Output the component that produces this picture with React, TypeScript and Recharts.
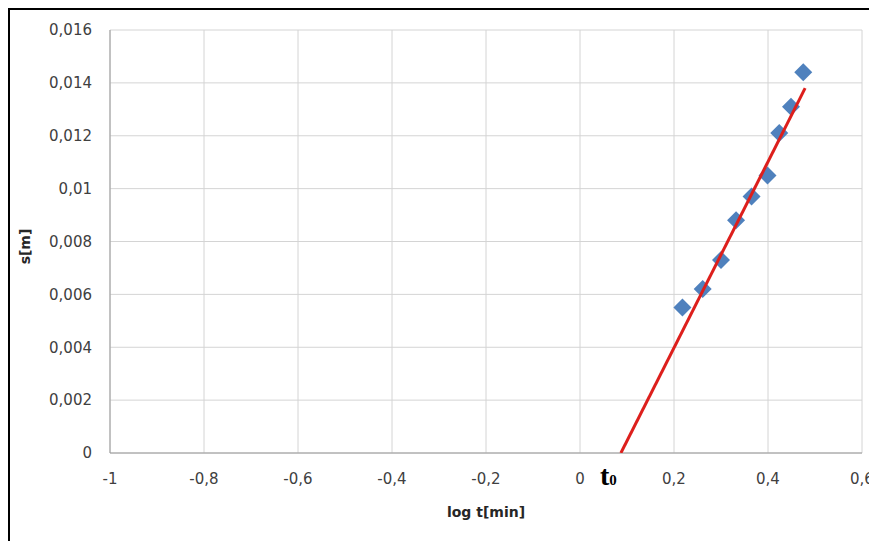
import { ScatterChart, Scatter, XAxis, YAxis, CartesianGrid, ReferenceDot } from 'recharts';

const logT = [0.218, 0.261, 0.3, 0.332, 0.365, 0.399, 0.424, 0.449, 0.475];
const drawdown = [0.0055, 0.0062, 0.0073, 0.0088, 0.0097, 0.0105, 0.0121, 0.0131, 0.0144];

// straight-line fit drawn in red, from t0 on the axis up to the last point
const fitX = [0.087, 0.479];
const fitY = [0, 0.0138];

const xTicks = [-1, -0.8, -0.6, -0.4, -0.2, 0, 0.2, 0.4, 0.6];
const yTicks = [0, 0.002, 0.004, 0.006, 0.008, 0.01, 0.012, 0.014, 0.016];

const points = logT.map((x, i) => ({ x, y: drawdown[i] }));
const fitLine = fitX.map((x, i) => ({ x, y: fitY[i] }));

const comma = (v: number) => String(v).replace('.', ',');
const tickStyle = { fontSize: 15, fill: '#404040', fontFamily: 'DejaVu Sans' };

function Diamond(props: any) {
  const { cx, cy } = props;
  const r = 9;
  return (
    <polygon
      points={`${cx},${cy - r} ${cx + r},${cy} ${cx},${cy + r} ${cx - r},${cy}`}
      fill="#4F81BD"
    />
  );
}

export default function App() {
  return (
    <div style={{ borderTop: '2px solid #000', borderLeft: '2px solid #000', width: 867, height: 531, overflow: 'hidden' }}>
      <ScatterChart width={867} height={531} margin={{ top: 20, right: 15, bottom: 58, left: 30 }}>
        <CartesianGrid stroke="#d4d4d4" />
        <XAxis
          type="number"
          dataKey="x"
          domain={[-1, 0.6]}
          ticks={xTicks}
          tickFormatter={comma}
          tick={tickStyle}
          tickLine={false}
          tickSize={0}
          tickMargin={20}
          height={30}
          axisLine={{ stroke: '#9a9a9a' }}
          allowDataOverflow
          label={{
            content: (p: any) => (
              <text
                x={p.viewBox.x + p.viewBox.width / 2}
                y={p.viewBox.y + 59}
                textAnchor="middle"
                dominantBaseline="central"
                fontFamily="DejaVu Sans"
                fontWeight="bold"
                fontSize={14}
                fill="#262626"
              >
                log t[min]
              </text>
            ),
          }}
        />
        <YAxis
          type="number"
          dataKey="y"
          domain={[0, 0.016]}
          ticks={yTicks}
          tickFormatter={comma}
          tick={tickStyle}
          tickLine={false}
          tickSize={0}
          tickMargin={18}
          width={70}
          axisLine={{ stroke: '#9a9a9a' }}
          allowDataOverflow
          label={{
            content: (p: any) => {
              const x = p.viewBox.x - 15;
              const y = p.viewBox.y + p.viewBox.height / 2 + 5;
              return (
                <text
                  x={x}
                  y={y}
                  transform={`rotate(-90 ${x} ${y})`}
                  textAnchor="middle"
                  dominantBaseline="central"
                  fontFamily="DejaVu Sans"
                  fontWeight="bold"
                  fontSize={14}
                  fill="#262626"
                >
                  s[m]
                </text>
              );
            },
          }}
        />
        <Scatter data={points} shape={Diamond} isAnimationActive={false} />
        <Scatter
          data={fitLine}
          line={{ stroke: '#DD1F1C', strokeWidth: 3 }}
          shape={() => <g />}
          isAnimationActive={false}
        />
        <ReferenceDot
          x={fitX[0]}
          y={fitY[0]}
          r={0}
          shape={(p: any) => (
            <text x={p.cx - 21} y={p.cy + 32} fontFamily="Liberation Serif" fontWeight="bold" fill="#000">
              <tspan fontSize={28}>t</tspan>
              <tspan fontSize={15}>0</tspan>
            </text>
          )}
        />
      </ScatterChart>
    </div>
  );
}
